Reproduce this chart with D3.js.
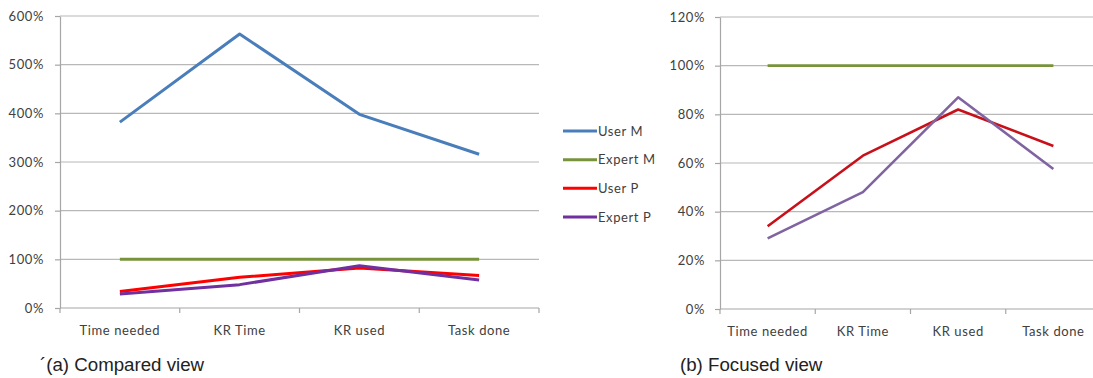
<!DOCTYPE html>
<html>
<head>
<meta charset="utf-8">
<script src="https://cdn.jsdelivr.net/npm/d3@7"></script>
<style>
  html, body { margin: 0; padding: 0; background: #fff; }
  svg { display: block; }
  .tick-label { font-family: Lato, "Open Sans", sans-serif; font-size: 13px; letter-spacing: 0.6px; fill: #404040; }
  .caption { font-family: "Liberation Sans", Arial, sans-serif; font-size: 18.7px; fill: #222; }
</style>
</head>
<body>
<svg id="chart" width="1093" height="378"></svg>
<script>
// Categories along the x axis
const categories = ["Time needed", "KR Time", "KR used", "Task done"];

// Ratio values per series (1 = 100%)
const userM   = [3.82, 5.63, 3.98, 3.16];
const expertM = [1.00, 1.00, 1.00, 1.00];
const userP   = [0.34, 0.63, 0.82, 0.67];
const expertP = [0.29, 0.48, 0.87, 0.575];

// Axis tick values
const ticksCompared = [0, 1, 2, 3, 4, 5, 6];
const ticksFocused  = [0, 0.2, 0.4, 0.6, 0.8, 1.0, 1.2];

const legendNames = ["User M", "Expert M", "User P", "Expert P"];
const captions = ["\u00b4(a) Compared view", "(b) Focused view"];

const svg = d3.select("#chart");
const pct = d3.format(".0%");

function drawPanel(opts) {
  const g = svg.append("g");
  const x = d3.scaleBand().domain(categories).range([opts.x0, opts.x1]);
  const y = d3.scaleLinear().domain([0, opts.yMax]).range([opts.y0, opts.y1]);

  // horizontal gridlines
  g.selectAll("line.grid").data(opts.ticks.slice(1)).join("line")
    .attr("x1", opts.x0).attr("x2", opts.x1)
    .attr("y1", d => y(d)).attr("y2", d => y(d))
    .attr("stroke", "#b8b8b8").attr("stroke-width", 1.2);

  // y axis
  const yAxis = g.append("g").attr("transform", `translate(${opts.x0},0)`)
    .call(d3.axisLeft(y).tickValues(opts.ticks).tickFormat(pct).tickSize(5).tickSizeOuter(0));
  yAxis.select(".domain").attr("stroke", "#a6a6a6").attr("stroke-width", 1.2);
  yAxis.selectAll(".tick line").attr("stroke", "#a6a6a6").attr("stroke-width", 1.2);
  yAxis.selectAll(".tick text").attr("class", "tick-label").attr("x", -opts.labelGap)
    .attr("font-family", null).attr("font-size", null).attr("fill", null);
  yAxis.attr("font-family", null).attr("font-size", null);

  // x axis with boundary ticks between categories
  const xAxisG = g.append("g").attr("transform", `translate(0,${opts.y0})`);
  xAxisG.append("line").attr("x1", opts.x0).attr("x2", opts.x1)
    .attr("stroke", "#a6a6a6").attr("stroke-width", 1.2);
  const bounds = categories.map(c => x(c)).concat([x(categories[categories.length - 1]) + x.bandwidth()]);
  xAxisG.selectAll("line.bt").data(bounds).join("line")
    .attr("x1", d => d).attr("x2", d => d).attr("y1", 0).attr("y2", 5)
    .attr("stroke", "#a6a6a6").attr("stroke-width", 1.2);
  xAxisG.selectAll("text").data(categories).join("text")
    .attr("class", "tick-label")
    .attr("x", d => x(d) + x.bandwidth() / 2).attr("y", 27)
    .attr("text-anchor", "middle").text(d => d);

  const line = d3.line().x((d, i) => x(categories[i]) + x.bandwidth() / 2).y(d => y(d));
  opts.series.forEach(s => {
    g.append("path").datum(s.values).attr("d", line)
      .attr("fill", "none").attr("stroke", s.color)
      .attr("stroke-width", opts.lineWidth).attr("stroke-linejoin", "round");
  });

  svg.append("text").attr("class", "caption")
    .attr("x", opts.captionX).attr("y", 371).text(opts.caption);
}

drawPanel({
  x0: 60, x1: 539, y0: 308, y1: 16, yMax: 6, ticks: ticksCompared, labelGap: 16,
  lineWidth: 3,
  series: [
    { values: userM, color: "#4a7ebb" },
    { values: expertM, color: "#77933c" },
    { values: userP, color: "#ff0000" },
    { values: expertP, color: "#7030a0" }
  ],
  caption: captions[0], captionX: 40
});

drawPanel({
  x0: 720, x1: 1101, y0: 309, y1: 17, yMax: 1.2, ticks: ticksFocused, labelGap: 15,
  lineWidth: 2.6,
  series: [
    { values: expertM, color: "#77933c" },
    { values: userP, color: "#c8101a" },
    { values: expertP, color: "#8064a2" }
  ],
  caption: captions[1], captionX: 680
});

// legend
const legendColors = ["#4a7ebb", "#77933c", "#ff0000", "#7030a0"];
const lg = svg.append("g");
const ly = d3.scalePoint().domain(legendNames).range([131, 217]);
legendNames.forEach((n, i) => {
  lg.append("line").attr("x1", 563).attr("x2", 597)
    .attr("y1", ly(n)).attr("y2", ly(n))
    .attr("stroke", legendColors[i]).attr("stroke-width", 3);
  lg.append("text").attr("class", "tick-label").attr("x", 598).attr("y", ly(n) + 4.5).text(n);
});
</script>
</body>
</html>
